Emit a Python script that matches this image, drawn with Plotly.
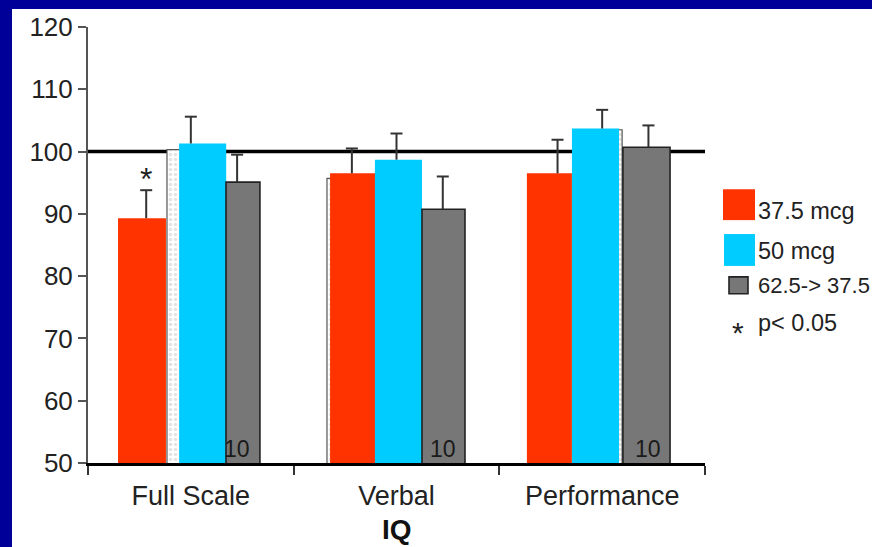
import plotly.graph_objects as go

# ---- data -------------------------------------------------------------
categories = ["Full Scale", "Verbal", "Performance"]
series_names = ["37.5 mcg", "50 mcg", "62.5-> 37.5"]

iq_375 = [89.3, 96.5, 96.5]
iq_50 = [101.3, 98.7, 103.7]
iq_625 = [95.1, 90.75, 100.7]

err_375 = [4.5, 4.0, 5.4]
err_50 = [4.3, 4.2, 3.0]
err_625 = [4.4, 5.25, 3.5]

iq_underlay = [100.3, 95.7, 103.5]

n_625 = ["10", "10", "10"]
sig_375 = ["*", "", ""]
sig_note = "p< 0.05"

y_ticks = [50, 60, 70, 80, 90, 100, 110, 120]
reference_iq = 100
axis_title = "IQ"

# ---- styling ----------------------------------------------------------
W, H = 872, 547
M_L, M_R, M_T, M_B = 88, 167, 25, 84
PLOT_W = W - M_L - M_R
PLOT_H = H - M_T - M_B

RED = "#FF3300"
CYAN = "#00CCFF"
GREY = "#777777"
INK = "#222222"
ERR = "#333333"
FRAME = "#000099"
FONT = "Liberation Sans, Arial, sans-serif"

# bar placement within each category slot (offset from slot centre, width)
OFF_375, WID_375 = [-0.354, -0.323, -0.366], [0.233, 0.219, 0.219]
OFF_50, WID_50 = [-0.057, -0.105, -0.147], [0.229, 0.229, 0.229]
OFF_625, WID_625 = [0.171, 0.124, 0.101], [0.165, 0.209, 0.229]
OFF_UND, WID_UND = [-0.116, -0.338, -0.127], [0.23, 0.22, 0.224]
# error-bar stems relative to slot centre
ERR_DX = [-0.217, 0.0, 0.225]
CAP = 6 / (PLOT_W / 3)


def px_x(px):
    return (px - M_L) / PLOT_W


def px_y(py):
    return (M_T + PLOT_H - py) / PLOT_H


def err_path(vals, errs, dx):
    xs, ys = [], []
    for i, (v, e) in enumerate(zip(vals, errs)):
        x = i + dx
        xs += [x, x, None, x - CAP, x + CAP, None]
        ys += [v, v + e, None, v + e, v + e, None]
    return xs, ys


xpos = list(range(len(categories)))
fig = go.Figure()

# faint underlying bars
fig.add_trace(go.Bar(
    x=xpos, y=iq_underlay, offset=OFF_UND, width=WID_UND, base=0,
    marker=dict(color="white", line=dict(color="#555555", width=1.2),
                pattern=dict(shape=".", fgcolor="#c8c8c8", bgcolor="white", size=5, solidity=0.4)),
    showlegend=False, hoverinfo="skip"))

fig.add_trace(go.Bar(x=xpos, y=iq_375, offset=OFF_375, width=WID_375, base=0,
                     name=series_names[0], marker=dict(color=RED, line=dict(width=0))))
fig.add_trace(go.Bar(x=xpos, y=iq_50, offset=OFF_50, width=WID_50, base=0,
                     name=series_names[1], marker=dict(color=CYAN, line=dict(width=0))))
fig.add_trace(go.Bar(x=xpos, y=iq_625, offset=OFF_625, width=WID_625, base=0,
                     name=series_names[2], marker=dict(color=GREY, line=dict(color=INK, width=1.6))))

for vals, errs, dx in [(iq_375, err_375, ERR_DX[0]), (iq_50, err_50, ERR_DX[1]),
                       (iq_625, err_625, ERR_DX[2])]:
    ex, ey = err_path(vals, errs, dx)
    fig.add_trace(go.Scatter(x=ex, y=ey, mode="lines", line=dict(color=ERR, width=2),
                             showlegend=False, hoverinfo="skip"))

annotations = []
# n inside the grey bars
for i, n in enumerate(n_625):
    annotations.append(dict(x=i + ERR_DX[2], y=y_ticks[0], text=n, showarrow=False,
                            xanchor="center", yanchor="bottom", yshift=-1,
                            font=dict(family=FONT, size=23, color="#1a1a1a")))
# significance markers
for i, s in enumerate(sig_375):
    if s:
        annotations.append(dict(x=i + ERR_DX[0], y=iq_375[i] + err_375[i], text=s,
                                showarrow=False, xanchor="center", yanchor="bottom",
                                yshift=-9, font=dict(family=FONT, size=32, color=INK)))
# axis title
annotations.append(dict(x=0.5, xref="paper", y=px_y(547), yref="paper", text="<b>%s</b>" % axis_title,
                        showarrow=False, xanchor="center", yanchor="bottom",
                        font=dict(family=FONT, size=28, color="#111111")))

# legend drawn by hand
shapes = []
legend_rows = [
    (RED, None, 723, 755, 188, 219, 210, 23.5),
    (CYAN, None, 724, 755, 233, 265, 250, 23.5),
    (GREY, INK, 729, 748, 276, 293, 285, 22),
]
for (col, edge, x0, x1, y0, y1, ty, fs), name in zip(legend_rows, series_names):
    shapes.append(dict(type="rect", xref="paper", yref="paper",
                       x0=px_x(x0), x1=px_x(x1), y0=px_y(y1), y1=px_y(y0),
                       fillcolor=col, line=dict(color=edge or col, width=1.6 if edge else 0)))
    annotations.append(dict(x=px_x(756), xref="paper", y=px_y(ty), yref="paper", text=name,
                            showarrow=False, xanchor="left", yanchor="middle",
                            font=dict(family=FONT, size=fs, color=INK)))
annotations.append(dict(x=px_x(738), xref="paper", y=px_y(332), yref="paper", text="*",
                        showarrow=False, xanchor="center", yanchor="middle",
                        font=dict(family=FONT, size=30, color=INK)))
annotations.append(dict(x=px_x(756), xref="paper", y=px_y(322), yref="paper", text=sig_note,
                        showarrow=False, xanchor="left", yanchor="middle",
                        font=dict(family=FONT, size=23.5, color=INK)))

# reference line
shapes.append(dict(type="line", xref="x", yref="y", x0=-0.5, x1=len(categories) - 0.5,
                   y0=reference_iq, y1=reference_iq, line=dict(color="black", width=3.5),
                   layer="below"))

# dark blue frame along the top and left edges
shapes.append(dict(type="rect", xref="paper", yref="paper", x0=px_x(-5), x1=px_x(12),
                   y0=px_y(H + 20), y1=px_y(-5), fillcolor=FRAME, line=dict(width=0)))
shapes.append(dict(type="rect", xref="paper", yref="paper", x0=px_x(-5), x1=px_x(W + 20),
                   y0=px_y(7), y1=px_y(-5), fillcolor=FRAME, line=dict(width=0)))

fig.update_layout(
    width=W, height=H, autosize=False,
    margin=dict(l=M_L, r=M_R, t=M_T, b=M_B, pad=0),
    paper_bgcolor="white", plot_bgcolor="white",
    barmode="overlay", showlegend=False,
    font=dict(family=FONT, color=INK),
    shapes=shapes, annotations=annotations,
    xaxis=dict(range=[-0.5, len(categories) - 0.5], tickvals=xpos, ticktext=categories,
               ticks="", showgrid=False, zeroline=False,
               showline=True, linecolor="black", linewidth=2.5,
               tickfont=dict(family=FONT, size=27, color=INK), ticklabelstandoff=7,
               minor=dict(tickvals=[-0.5, 0.5, 1.5, 2.5], ticks="outside", ticklen=9,
                          tickwidth=2, tickcolor="#333333", showgrid=False)),
    yaxis=dict(range=[y_ticks[0], y_ticks[-1]], tickvals=y_ticks, ticks="outside",
               ticklen=8, tickwidth=2, tickcolor="#555555",
               showgrid=False, zeroline=False, showline=True, linecolor="#555555", linewidth=2,
               tickfont=dict(family=FONT, size=26, color=INK)),
)

fig.write_html("out.html")
